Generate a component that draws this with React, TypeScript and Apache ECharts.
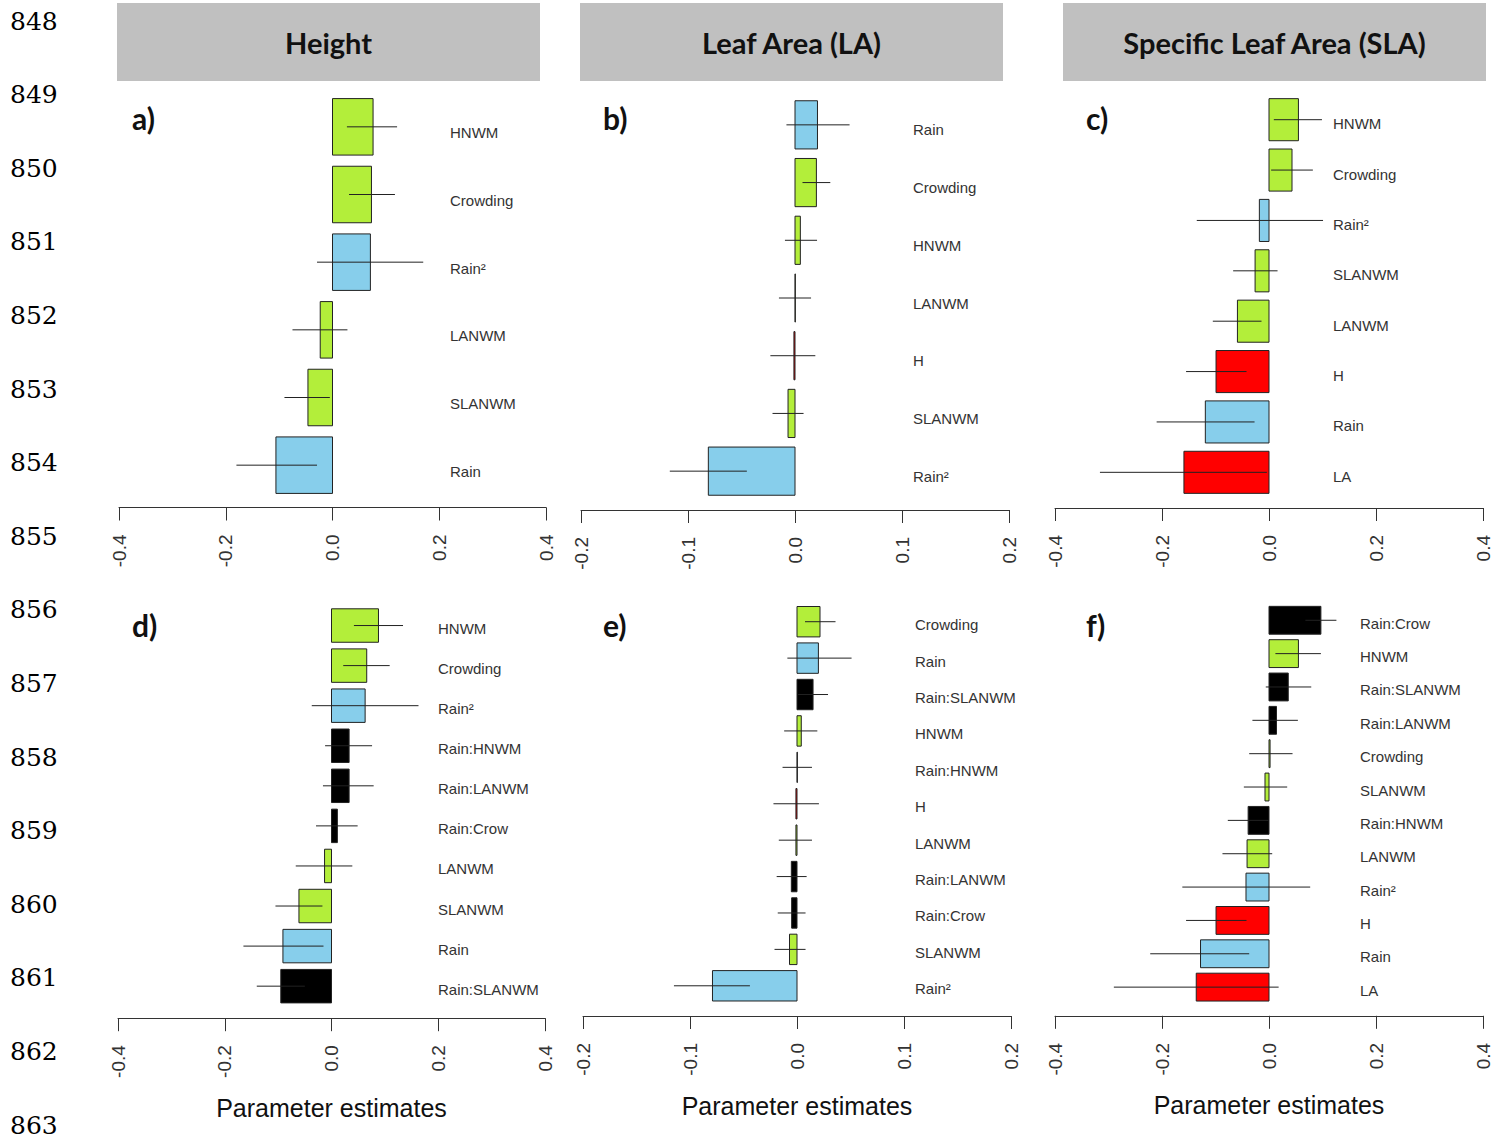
import React, { useEffect, useRef } from "react";
import * as echarts from "echarts";

// ---------- colours by term type ----------
const COLORS: Record<string, string> = {
  nwm: "#b3ee3a", // neighbourhood / crowding terms (green)
  rain: "#87ceeb", // rainfall terms (blue)
  ind: "#ff0000", // individual trait terms (red)
  int: "#000000", // interactions (black)
};

// ---------- a) Height (first model) ----------
const aLabels = ["HNWM", "Crowding", "Rain²", "LANWM", "SLANWM", "Rain"];
const aEst = [0.076, 0.073, 0.071, -0.023, -0.046, -0.106];
const aLo = [0.027, 0.031, -0.029, -0.075, -0.09, -0.18];
const aHi = [0.121, 0.117, 0.17, 0.028, -0.005, -0.029];
const aType = ["nwm", "nwm", "rain", "nwm", "nwm", "rain"];

// ---------- b) Leaf Area ----------
const bLabels = ["Rain", "Crowding", "HNWM", "LANWM", "H", "SLANWM", "Rain²"];
const bEst = [0.021, 0.02, 0.005, 0.0003, -0.001, -0.0065, -0.081];
const bLo = [-0.008, 0.007, -0.0094, -0.015, -0.023, -0.021, -0.117];
const bHi = [0.051, 0.033, 0.0206, 0.015, 0.019, 0.008, -0.045];
const bType = ["rain", "nwm", "nwm", "nwm", "ind", "nwm", "rain"];

// ---------- c) Specific Leaf Area ----------
const cLabels = ["HNWM", "Crowding", "Rain²", "SLANWM", "LANWM", "H", "Rain", "LA"];
const cEst = [0.055, 0.043, -0.018, -0.026, -0.059, -0.099, -0.119, -0.159];
const cLo = [0.009, 0.004, -0.135, -0.067, -0.105, -0.155, -0.21, -0.316];
const cHi = [0.099, 0.082, 0.101, 0.016, -0.014, -0.042, -0.027, -0.004];
const cType = ["nwm", "nwm", "rain", "nwm", "nwm", "ind", "rain", "ind"];

// ---------- d) Height (interaction model) ----------
const dLabels = ["HNWM", "Crowding", "Rain²", "Rain:HNWM", "Rain:LANWM", "Rain:Crow", "LANWM", "SLANWM", "Rain", "Rain:SLANWM"];
const dEst = [0.088, 0.066, 0.063, 0.033, 0.033, 0.011, -0.013, -0.061, -0.091, -0.095];
const dLo = [0.042, 0.022, -0.037, -0.012, -0.016, -0.029, -0.067, -0.105, -0.165, -0.14];
const dHi = [0.134, 0.109, 0.163, 0.076, 0.079, 0.049, 0.039, -0.017, -0.015, -0.05];
const dType = ["nwm", "nwm", "rain", "int", "int", "int", "nwm", "nwm", "rain", "int"];

// ---------- e) Leaf Area (interaction model) ----------
const eLabels = ["Crowding", "Rain", "Rain:SLANWM", "HNWM", "Rain:HNWM", "H", "LANWM", "Rain:LANWM", "Rain:Crow", "SLANWM", "Rain²"];
const eEst = [0.0215, 0.02, 0.015, 0.004, 0.0003, -0.001, -0.001, -0.0053, -0.005, -0.007, -0.079];
const eLo = [0.0075, -0.009, 0.001, -0.012, -0.0135, -0.022, -0.017, -0.019, -0.018, -0.021, -0.115];
const eHi = [0.036, 0.051, 0.029, 0.019, 0.014, 0.0205, 0.014, 0.009, 0.008, 0.008, -0.044];
const eType = ["nwm", "rain", "int", "nwm", "int", "ind", "nwm", "int", "int", "nwm", "rain"];

// ---------- f) Specific Leaf Area (interaction model) ----------
const fLabels = ["Rain:Crow", "HNWM", "Rain:SLANWM", "Rain:LANWM", "Crowding", "SLANWM", "Rain:HNWM", "LANWM", "Rain²", "H", "Rain", "LA"];
const fEst = [0.097, 0.055, 0.036, 0.014, 0.002, -0.0075, -0.039, -0.041, -0.043, -0.099, -0.128, -0.136];
const fLo = [0.068, 0.012, -0.006, -0.031, -0.037, -0.047, -0.077, -0.087, -0.162, -0.155, -0.222, -0.29];
const fHi = [0.126, 0.097, 0.079, 0.054, 0.044, 0.034, -0.001, 0.006, 0.077, -0.042, -0.037, 0.018];
const fType = ["int", "nwm", "int", "int", "nwm", "nwm", "int", "nwm", "rain", "ind", "rain", "ind"];

// ---------- texts ----------
const headers = ["Height", "Leaf Area (LA)", "Specific Leaf Area (SLA)"];
const letters = ["a)", "b)", "c)", "d)", "e)", "f)"];
const lineNumbers = ["848", "849", "850", "851", "852", "853", "854", "855", "856", "857", "858", "859", "860", "861", "862", "863"];
const axisTitle = "Parameter estimates";

// ---------- layout (positions only) ----------
const panels = [
  { labels: aLabels, est: aEst, lo: aLo, hi: aHi, type: aType, min: -0.4, max: 0.4, interval: 0.2,
    left: 119, width: 427, top: 93, height: 406, axisOffset: 8.5, labelOffset: -96, shift: 6, bottom: false },
  { labels: bLabels, est: bEst, lo: bLo, hi: bHi, type: bType, min: -0.2, max: 0.2, interval: 0.1,
    left: 581, width: 428, top: 96, height: 404, axisOffset: 10, labelOffset: -96, shift: 5, bottom: false },
  { labels: cLabels, est: cEst, lo: cLo, hi: cHi, type: cType, min: -0.4, max: 0.4, interval: 0.2,
    left: 1055, width: 428, top: 94.5, height: 403, axisOffset: 10.5, labelOffset: -150, shift: 4, bottom: false },
  { labels: dLabels, est: dEst, lo: dLo, hi: dHi, type: dType, min: -0.4, max: 0.4, interval: 0.2,
    left: 118, width: 427, top: 605.5, height: 400.7, axisOffset: 12, labelOffset: -107, shift: 3, bottom: true },
  { labels: eLabels, est: eEst, lo: eLo, hi: eHi, type: eType, min: -0.2, max: 0.2, interval: 0.1,
    left: 583, width: 428, top: 603.5, height: 400.5, axisOffset: 12, labelOffset: -96, shift: 3, bottom: true },
  { labels: fLabels, est: fEst, lo: fLo, hi: fHi, type: fType, min: -0.4, max: 0.4, interval: 0.2,
    left: 1055, width: 428, top: 603.6, height: 400.2, axisOffset: 12, labelOffset: -123, shift: 3, bottom: true },
];

const headerBoxes = [
  { x: 117, w: 423 },
  { x: 580, w: 423 },
  { x: 1063, w: 423 },
];
const letterPos = [
  [132, 118], [603, 118], [1086, 118],
  [132, 625], [603, 625], [1086, 625],
];

const SANS = "'Liberation Sans', Arial, sans-serif";
const BOLD = "Lato, 'Open Sans', sans-serif";

function fmt(v: number) {
  if (Math.abs(v) < 1e-9) return "0.0";
  return v.toFixed(1);
}

export default function App() {
  const ref = useRef<HTMLDivElement>(null);

  useEffect(() => {
    if (!ref.current) return;
    const chart = echarts.init(ref.current, undefined, { renderer: "svg" });

    const grid = panels.map((p) => ({ left: p.left, top: p.top, width: p.width, height: p.height, containLabel: false }));

    const xAxis = panels.map((p, i) => ({
      type: "value",
      gridIndex: i,
      min: p.min,
      max: p.max,
      interval: p.interval,
      offset: p.axisOffset,
      splitLine: { show: false },
      axisLine: { show: true, lineStyle: { color: "#333", width: 1 } },
      axisTick: { show: true, length: 13, lineStyle: { color: "#333", width: 1 } },
      axisLabel: {
        rotate: 90,
        margin: 27,
        fontSize: 19,
        color: "#333",
        fontFamily: SANS,
        formatter: (v: number) => fmt(v),
      },
      name: p.bottom ? axisTitle : "",
      nameLocation: "middle",
      nameGap: 77,
      nameTextStyle: { fontSize: 25, color: "#111", fontFamily: SANS },
    }));

    const yAxis = panels.map((p, i) => ({
      type: "category",
      gridIndex: i,
      data: p.labels,
      inverse: true,
      position: "right",
      offset: p.labelOffset,
      axisLine: { show: false },
      axisTick: { show: false },
      splitLine: { show: false },
      axisLabel: {
        interval: 0,
        margin: 0,
        fontSize: 15,
        color: "#333",
        fontFamily: SANS,
        align: "left",
        verticalAlign: "top",
        lineHeight: p.shift * 2,
      },
    }));

    const series = panels.map((p, i) => ({
      type: "custom",
      xAxisIndex: i,
      yAxisIndex: i,
      encode: { x: [0, 2, 3], y: 1 },
      data: p.est.map((v, k) => [v, k, p.lo[k], p.hi[k]]),
      renderItem: (params: any, api: any) => {
        const v = api.value(0);
        const cat = api.value(1);
        const lo = api.value(2);
        const hi = api.value(3);
        const p0 = api.coord([0, cat]);
        const p1 = api.coord([v, cat]);
        const pl = api.coord([lo, cat]);
        const ph = api.coord([hi, cat]);
        const band = api.size([0, 1])[1];
        const h = band * 0.835;
        const x = Math.min(p0[0], p1[0]);
        const w = Math.max(Math.abs(p1[0] - p0[0]), 0.3);
        const color = COLORS[p.type[params.dataIndex]];
        return {
          type: "group",
          children: [
            {
              type: "rect",
              shape: { x, y: p0[1] - h / 2, width: w, height: h },
              style: { fill: color, stroke: "#222", lineWidth: 1 },
            },
            {
              type: "line",
              shape: { x1: pl[0], y1: p0[1], x2: ph[0], y2: p0[1] },
              style: { stroke: "#222", lineWidth: 1 },
            },
          ],
        };
      },
    }));

    const graphic: any[] = [];
    headerBoxes.forEach((b, i) => {
      graphic.push({
        type: "rect",
        shape: { x: b.x, y: 3, width: b.w, height: 78 },
        style: { fill: "#c0c0c0" },
      });
      graphic.push({
        type: "text",
        x: b.x + b.w / 2,
        y: 42,
        style: {
          text: headers[i],
          fill: "#111",
          font: `bold 29px ${BOLD}`,
          textAlign: "center",
          textVerticalAlign: "middle",
        },
      });
    });
    letters.forEach((t, i) => {
      graphic.push({
        type: "text",
        x: letterPos[i][0],
        y: letterPos[i][1],
        style: {
          text: t,
          fill: "#111",
          font: `bold 30px ${BOLD}`,
          textAlign: "left",
          textVerticalAlign: "middle",
        },
      });
    });
    lineNumbers.forEach((t, i) => {
      graphic.push({
        type: "text",
        x: 10,
        y: 21 + i * 73.6,
        style: {
          text: t,
          fill: "#000",
          font: `25px 'DejaVu Serif', serif`,
          textAlign: "left",
          textVerticalAlign: "middle",
        },
      });
    });

    chart.setOption({
      animation: false,
      backgroundColor: "#ffffff",
      grid,
      xAxis,
      yAxis,
      series,
      graphic,
    });

    return () => chart.dispose();
  }, []);

  return (
    <div
      ref={ref}
      style={{ position: "fixed", left: 0, top: 0, width: 1510, height: 1141, background: "#fff" }}
    />
  );
}
